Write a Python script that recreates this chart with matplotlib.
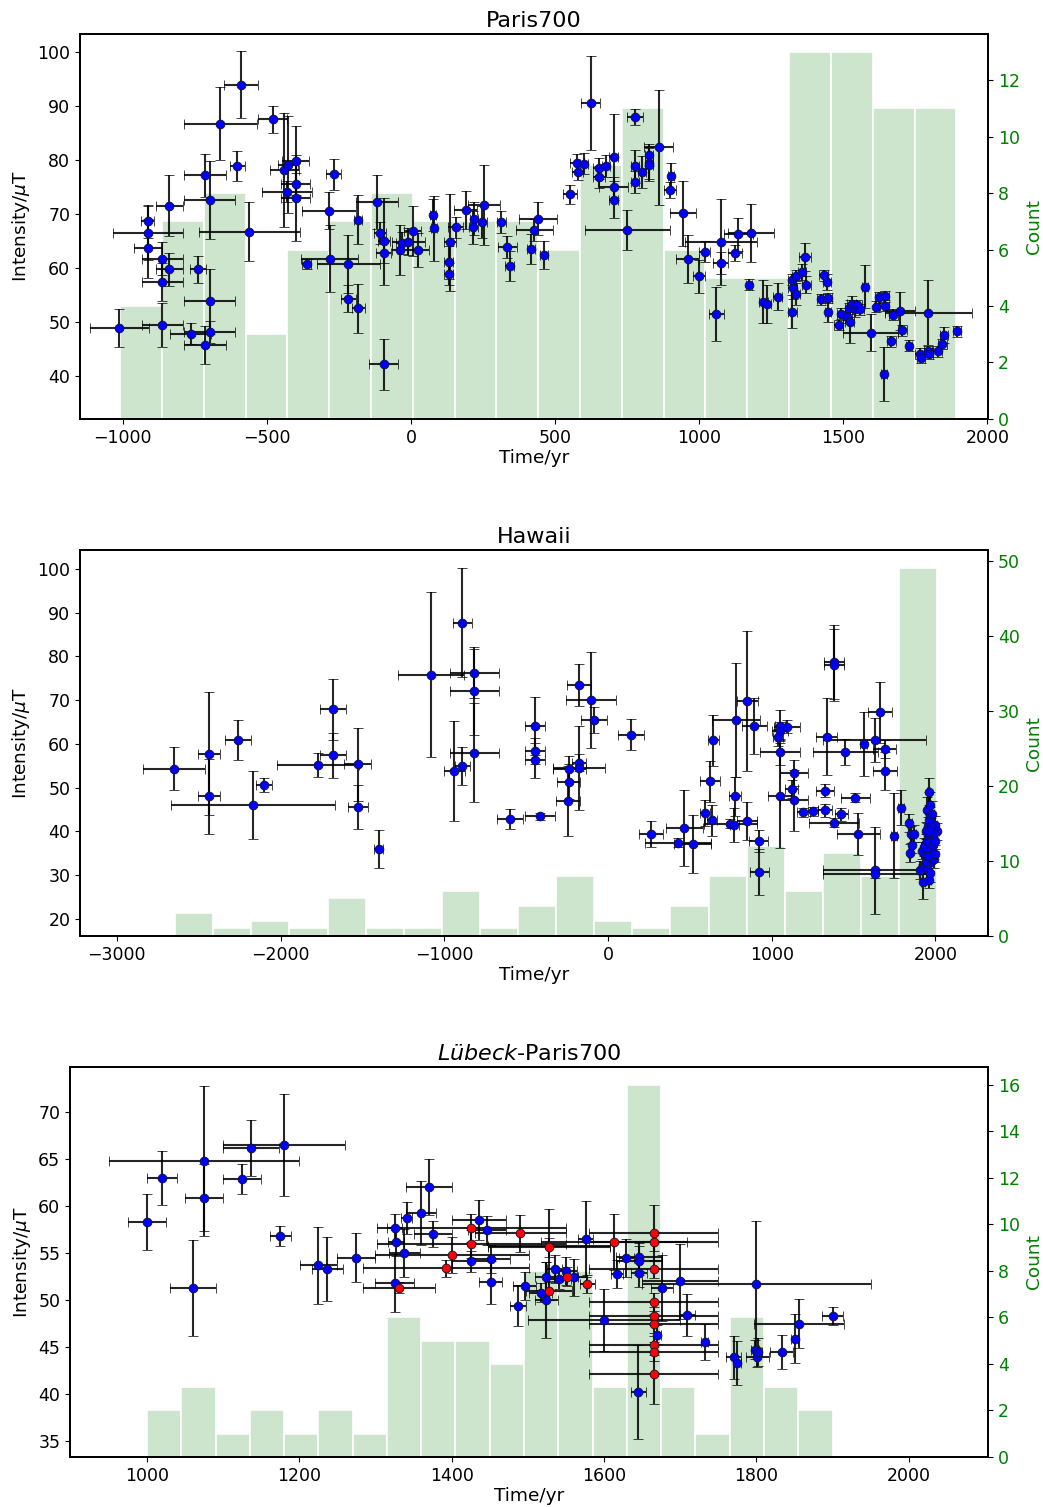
import numpy as np
import matplotlib
matplotlib.use("Agg")
import matplotlib.pyplot as plt

# ---------------- Paris700 ----------------
paris_t = [-1011, -913, -913, -913, -862, -838, -838, -862, -862, -764, -738, -714, -698, -698, -698, -714,
           -661, -589, -602, -560, -480, -440, -426, -400, -400, -429, -400, -362, -267, -284, -282, -217,
           -217, -183, -183, -118, -107, -94, -94, -94, -38, -32, -9, 6, 25, 76, 81, 135, 131, 131, 156,
           190, 219, 216, 245, 254, 314, 335, 343, 416, 428, 441, 462, 552, 624, 577, 578, 601, 652, 652,
           677, 703, 703, 703, 751, 777, 777, 777, 802, 826, 826, 826, 860, 901, 898, 945, 960, 1000, 1019,
           1075, 1075, 1060, 1124, 1136, 1179, 1173, 1223, 1234, 1272, 1323, 1324, 1322, 1335, 1337, 1357,
           1367, 1372, 1422, 1432, 1443, 1446, 1447, 1484, 1492, 1514, 1522, 1520, 1529, 1539, 1549, 1557,
           1574, 1595, 1615, 1624, 1643, 1643, 1641, 1666, 1673, 1696, 1705, 1727, 1765, 1770, 1794, 1796,
           1827, 1844, 1849, 1894, 1795]
paris_terr = [104, 23, 122, 48, 72, 48, 46, 72, 72, 72, 28, 74, 88, 88, 88, 74,
              127, 60, 27, 175, 49, 50, 35, 46, 49, 86, 49, 17, 26, 95, 98, 110,
              26, 23, 15, 73, 20, 20, 26, 50, 29, 20, 58, 29, 37, 10, 10, 20, 15, 15, 26,
              40, 15, 15, 20, 55, 17, 32, 15, 15, 65, 65, 15, 24, 33, 25, 20, 15, 20, 20,
              15, 15, 50, 15, 148, 27, 15, 15, 15, 15, 15, 15, 50, 10, 20, 45, 40, 20, 20,
              124, 26, 26, 23, 49, 79, 10, 15, 15, 15, 15, 15, 15, 15, 15, 15,
              20, 15, 15, 15, 15, 15, 10, 15, 15, 15, 15, 15, 15, 15, 15, 15,
              10, 95, 10, 15, 15, 15, 10, 15, 15, 52, 15, 10, 15, 15, 15, 15,
              15, 15, 15, 15, 150]
paris_f = [48.9, 68.6, 66.5, 63.6, 61.7, 59.7, 71.5, 57.4, 49.4, 47.8, 59.7, 77.1, 72.5, 53.8, 48.1, 45.7,
           86.7, 93.9, 78.8, 66.7, 87.5, 78.1, 79.1, 79.8, 75.5, 74.1, 72.9, 60.7, 77.3, 70.6, 61.7, 60.7,
           54.3, 52.5, 68.9, 72.2, 66.5, 64.9, 62.8, 42.1, 63.3, 64.6, 64.8, 66.8, 63.3, 69.8, 67.3, 64.7, 61.0, 58.9, 67.5,
           70.7, 69.1, 67.5, 68.5, 71.7, 68.5, 63.8, 60.4, 63.5, 67.0, 69.1, 62.3, 73.6, 90.5, 79.5, 77.7, 79.3, 78.4, 76.8,
           78.9, 80.5, 74.9, 72.65, 67.0, 88.0, 78.8, 75.9, 77.7, 80.9, 79.4, 79.1, 82.3, 77.0, 74.4, 70.1, 61.6, 58.4, 63.0,
           64.8, 60.9, 51.4, 62.8, 66.2, 66.5, 56.9, 53.7, 53.3, 54.6, 51.9, 56.2, 57.8, 55.1, 58.5, 59.2,
           62.0, 56.9, 54.2, 58.6, 57.3, 54.4, 51.9, 49.4, 51.5, 50.8, 50.0, 52.5, 53.3, 52.3, 53.1, 52.3,
           56.5, 48.0, 52.8, 54.5, 54.7, 53.0, 40.3, 46.4, 51.3, 52.0, 48.4, 45.6, 44.1, 43.3, 44.5, 44.1,
           44.5, 45.9, 47.5, 48.2, 51.7]
paris_ferr = [3.5, 3.0, 5.0, 5.5, 3.0, 3.0, 5.6, 3.5, 4.0, 2.0, 2.5, 4.0, 7.2, 6.0, 2.0, 3.5,
              6.8, 6.2, 2.8, 5.5, 2.5, 10.5, 9.0, 6.5, 2.0, 2.0, 8.0, 1.0, 2.8, 3.4, 6.2, 5.3,
              2.5, 4.5, 4.5, 5.0, 2.0, 8.0, 2.0, 4.8, 4.7, 2.0, 2.5, 4.7, 3.2, 3.0, 6.0, 9.0, 3.0, 2.0, 2.0,
              3.5, 3.0, 3.0, 3.0, 7.4, 2.0, 2.0, 2.8, 2.8, 2.0, 3.0, 2.6, 1.8, 8.7, 1.5, 1.5, 2.0, 2.0, 2.0,
              2.0, 8.0, 2.0, 3.5, 3.7, 1.5, 3.0, 2.0, 3.0, 2.0, 3.0, 3.0, 10.7, 2.5, 1.5, 6.0, 4.5, 3.0, 2.0,
              8.0, 2.0, 5.0, 1.5, 3.0, 5.4, 1.0, 4.0, 3.5, 2.5, 3.0, 2.0, 1.0, 2.0, 1.0, 1.5,
              2.6, 1.5, 1.0, 1.0, 1.5, 1.0, 2.0, 1.0, 1.0, 1.0, 4.0, 1.0, 1.5, 1.5, 1.0, 1.0,
              4.0, 3.5, 1.0, 1.0, 1.0, 1.0, 5.0, 1.0, 1.0, 3.5, 1.0, 1.0, 1.0, 1.0, 1.0, 1.0,
              1.0, 1.0, 1.5, 1.0, 6.0]
paris_bin_edges = np.linspace(-1009, 1892, 21)
paris_counts = [4, 7, 8, 3, 6, 7, 8, 7, 7, 7, 6, 9, 11, 6, 5, 5, 13, 13, 11, 11]

# ---------------- Hawaii ----------------
hawaii_t = [-2650, -2439, -2439, -2261, -2170, -2099, -1771, -1679, -1679, -1530, -1530, -1400,
            -1080, -889, -818, -818, -818, -938, -889, -598, -446, -446, -446, -415,
            -236, -240, -244, -177, -177, -177, -106, -86, 143, 263, 428, 517, 467, 592, 622, 644, 634,
            782, 850, 893, 774, 747, 772, 850, 921, 923, 1050, 1050, 1052, 1040, 1093, 1050, 1135, 1121,
            1135, 1192, 1252, 1325, 1325, 1335, 1380, 1426, 1383, 1383, 1450, 1511, 1529, 1561, 1630,
            1660, 1689, 1691, 1630, 1630, 1747, 1790,
            1840, 1842, 1853, 1855, 1867, 1903, 1915, 1923, 1927, 1935, 1945, 1949, 1953, 1955, 1959,
            1959, 1969, 1971, 1979, 1989, 1999, 2010, 1949, 1960, 1930, 1940, 1945, 1950, 1955, 1960,
            1962, 1965, 1968, 1975, 1980, 1985, 1990, 1995, 1997, 1960]
hawaii_terr = [190, 68, 68, 78, 502, 49, 250, 81, 81, 81, 61, 28,
               200, 60, 150, 150, 150, 66, 48, 79, 61, 61, 61, 90,
               102, 71, 71, 71, 40, 160, 152, 79, 79, 71, 200, 111, 113, 30, 61, 35, 30,
               145, 65, 75, 38, 160, 30, 62, 58, 58, 121, 30, 50, 30, 80, 70, 86, 40,
               86, 40, 30, 55, 40, 63, 152, 40, 61, 61, 200, 91, 131, 20, 315,
               73, 70, 72, 317, 317, 20, 20,
               15, 10, 15, 10, 15, 10, 10, 10, 10, 10, 10, 10, 10, 10, 10,
               10, 10, 10, 10, 10, 10, 10, 10, 10, 10, 10, 10, 10, 10, 10,
               10, 10, 10, 10, 10, 10, 10, 10, 10, 5]
hawaii_f = [54.3, 57.8, 48.0, 60.9, 46.1, 50.5, 55.2, 67.9, 57.4, 55.3, 45.6, 36.0,
            75.8, 87.7, 76.1, 72.1, 58.0, 53.8, 55.0, 42.9, 64.1, 58.4, 56.3, 43.5,
            54.3, 51.4, 47.0, 73.5, 55.7, 54.5, 70.0, 65.5, 62.1, 39.4, 37.4, 37.1, 40.7, 44.2, 51.5, 60.8, 42.5,
            65.5, 69.7, 64.1, 48.0, 41.8, 41.4, 42.4, 37.9, 30.7, 58.2, 64.2, 63.0, 61.5, 63.9, 48.1, 53.3, 49.7,
            47.1, 44.4, 44.6, 49.3, 44.8, 61.6, 42.0, 43.9, 78.7, 78.1, 58.2, 47.7, 39.4, 60.0, 60.9,
            67.2, 58.8, 53.8, 31.1, 30.3, 39.0, 45.4,
            41.9, 35.1, 39.3, 37.0, 39.5, 31.2, 35.6, 28.5, 32.3, 34.6, 37.3, 44.9, 39.0, 41.3, 49.1,
            32.7, 43.5, 35.8, 38.4, 33.6, 41.5, 40.0, 31.6, 29.0, 36.5, 40.2, 33.0, 36.2, 34.3, 42.5,
            37.5, 46.0, 30.5, 41.0, 44.0, 36.8, 39.6, 34.9, 37.9, 40.0]
hawaii_ferr = [4.9, 14.0, 8.5, 4.6, 7.8, 1.6, 2.7, 7.0, 5.2, 8.3, 5.0, 4.4,
               18.9, 12.4, 5.7, 10.0, 11.3, 11.5, 4.4, 2.3, 6.6, 3.0, 4.0, 0.8,
               3.0, 4.0, 8.0, 4.8, 2.0, 9.6, 11.0, 3.0, 3.5, 3.0, 1.0, 6.7, 8.7, 3.0, 4.7, 5.9, 3.6,
               13.0, 16.0, 6.4, 4.5, 1.0, 3.9, 4.3, 2.5, 5.3, 3.0, 3.5, 2.0, 2.0, 1.5, 12.0, 3.0, 2.0,
               7.0, 1.0, 1.0, 1.5, 1.5, 8.8, 1.0, 1.5, 8.4, 8.2, 3.0, 1.0, 4.8, 7.4, 5.0,
               7.0, 2.0, 4.3, 10.0, 1.0, 9.7, 4.0,
               2.0, 2.0, 2.0, 2.0, 2.0, 2.0, 2.0, 4.0, 2.0, 2.0, 2.0, 3.0, 2.0, 2.0, 3.0,
               2.0, 2.0, 2.0, 2.0, 2.0, 2.0, 2.0, 3.0, 2.0, 2.0, 2.0, 2.0, 2.0, 2.0, 3.0,
               2.0, 3.0, 2.0, 2.0, 3.0, 2.0, 2.0, 2.0, 2.0, 9.0]
hawaii_bin_edges = np.linspace(-2644, 2010, 21)
hawaii_counts = [3, 1, 2, 1, 5, 1, 1, 6, 1, 4, 8, 2, 1, 4, 8, 12, 6, 11, 8, 49]

# ---------------- Lübeck-Paris700 ----------------
lub_t = [1000, 1020, 1060, 1075, 1075, 1125, 1137, 1180, 1175, 1225, 1237, 1275, 1325, 1327, 1325,
         1338, 1341, 1360, 1370, 1376, 1426, 1436, 1446, 1451, 1451, 1487, 1496, 1524, 1524, 1517,
         1535, 1541, 1550, 1561, 1576, 1600, 1617, 1629, 1646, 1646, 1646, 1645, 1670, 1676, 1700,
         1709, 1732, 1770, 1775, 1798, 1801, 1802, 1800, 1833, 1850, 1856, 1900]
lub_terr = [25, 20, 30, 125, 25, 25, 37, 80, 14, 24, 20, 25, 10, 10, 25,
            20, 7, 20, 30, 25, 25, 35, 25, 25, 15, 10, 15, 15, 15, 15,
            10, 15, 15, 15, 10, 100, 8, 10, 30, 30, 10, 10, 5, 15, 50,
            10, 5, 10, 5, 5, 15, 5, 150, 15, 5, 59, 14]
lub_f = [58.3, 63.0, 51.3, 64.8, 60.9, 62.9, 66.2, 66.5, 56.8, 53.7, 53.3, 54.5, 57.7, 56.2, 51.8,
         55.0, 58.7, 59.3, 62.0, 57.0, 54.1, 58.5, 57.4, 54.4, 51.9, 49.4, 51.5, 52.5, 50.0, 50.8,
         53.3, 52.2, 53.1, 52.4, 56.5, 47.9, 52.8, 54.5, 54.6, 54.2, 52.9, 40.2, 46.3, 51.3, 52.0,
         48.4, 45.5, 43.9, 43.3, 44.7, 43.9, 44.5, 51.7, 44.5, 45.9, 47.5, 48.3]
lub_ferr = [3.0, 2.9, 5.1, 8.0, 3.6, 1.6, 3.0, 5.4, 1.1, 4.1, 3.4, 2.6, 1.5, 1.5, 3.1,
            2.6, 1.7, 3.4, 3.0, 1.4, 1.1, 2.1, 1.5, 1.5, 2.3, 2.2, 1.5, 1.5, 4.0, 1.0,
            1.5, 1.0, 1.5, 2.0, 4.0, 3.3, 1.5, 2.0, 1.5, 1.5, 1.5, 5.0, 1.0, 3.5, 4.0,
            2.2, 1.9, 2.3, 2.3, 1.0, 1.0, 1.5, 6.7, 1.8, 2.6, 2.6, 1.0]
lub_red_t = [1331, 1392, 1401, 1426, 1426, 1490, 1528, 1528, 1528, 1551, 1578, 1613,
             1665, 1665, 1665, 1665, 1665, 1665, 1665, 1665, 1665]
lub_red_terr = [47, 109, 101, 124, 124, 60, 80, 80, 30, 15, 10, 96,
                85, 85, 85, 85, 85, 85, 85, 85, 85]
lub_red_f = [51.3, 53.4, 54.8, 57.7, 56.0, 57.1, 55.8, 55.6, 51.0, 52.5, 51.7, 56.2,
             57.1, 56.2, 53.3, 49.8, 48.3, 47.5, 45.2, 44.5, 42.1]
lub_red_ferr = [0.6, 0.9, 1.9, 1.5, 1.5, 2.0, 3.9, 1.0, 1.0, 1.0, 1.0, 3.0,
                3.0, 1.0, 1.0, 1.0, 1.0, 1.0, 1.0, 1.0, 3.2]
lub_bin_edges = np.linspace(1000, 1900, 21)
lub_counts = [2, 3, 1, 2, 1, 2, 1, 6, 5, 5, 4, 8, 8, 3, 16, 3, 1, 6, 3, 2]

TICK_FS = 12.5
LABEL_FS = 13.3
TITLE_FS = 16

fig = plt.figure(figsize=(10.43, 15.07), dpi=100)


def panel(rect, title, xlim, ylim, ylim2, edges, counts, series):
    ax = fig.add_axes(rect)
    ax2 = ax.twinx()
    ax2.bar(edges[:-1], counts, width=np.diff(edges), align='edge',
            facecolor=(0, 0.5, 0, 0.2), edgecolor='white', linewidth=1.2)
    ax2.set_ylim(*ylim2)
    ax2.set_ylabel('Count', color='green', fontsize=LABEL_FS)
    ax2.tick_params(axis='y', labelcolor='green', labelsize=TICK_FS)
    for (t, te, f, fe, col) in series:
        ax.errorbar(t, f, xerr=te, yerr=fe, fmt='o', ms=6.3, mfc=col, mec='#111133',
                    mew=0.6, ecolor=(0, 0, 0, 0.85), elinewidth=1.5, capsize=3.5, capthick=1.2)
    ax.set_zorder(ax2.get_zorder() + 1)
    ax.patch.set_visible(False)
    ax.set_xlim(*xlim)
    ax.set_ylim(*ylim)
    ax.set_xlabel('Time/yr', fontsize=LABEL_FS, labelpad=2)
    ax.set_ylabel(r'Intensity/$\mu$T', fontsize=LABEL_FS)
    ax.tick_params(labelsize=TICK_FS)
    ax.set_title(title, fontsize=TITLE_FS, pad=5)
    for a in (ax, ax2):
        for s in a.spines.values():
            s.set_linewidth(1.3)
    return ax, ax2


panel([0.0767, 0.7220, 0.8706, 0.2554], 'Paris700', (-1148, 2002), (32.0, 103.3), (0, 13.63),
      paris_bin_edges, paris_counts,
      [(paris_t, paris_terr, paris_f, paris_ferr, 'blue')])

ax_h, ax_h2 = panel([0.0767, 0.3789, 0.8706, 0.2561], 'Hawaii', (-3225, 2321), (16.1, 104.3), (0, 51.45),
                    hawaii_bin_edges, hawaii_counts,
                    [(hawaii_t, hawaii_terr, hawaii_f, hawaii_ferr, 'blue')])
ax_h.set_xticks([-3000, -2000, -1000, 0, 1000, 2000])

ax_l, ax_l2 = panel([0.0671, 0.0332, 0.8802, 0.2588], r'$\mathit{Lübeck}$-Paris700', (899, 2104), (33.3, 74.8),
                    (0, 16.77), lub_bin_edges, lub_counts,
                    [(lub_t, lub_terr, lub_f, lub_ferr, 'blue'),
                     (lub_red_t, lub_red_terr, lub_red_f, lub_red_ferr, 'red')])
ax_l.set_yticks([35, 40, 45, 50, 55, 60, 65, 70])

fig.savefig('out.png', dpi=100)
